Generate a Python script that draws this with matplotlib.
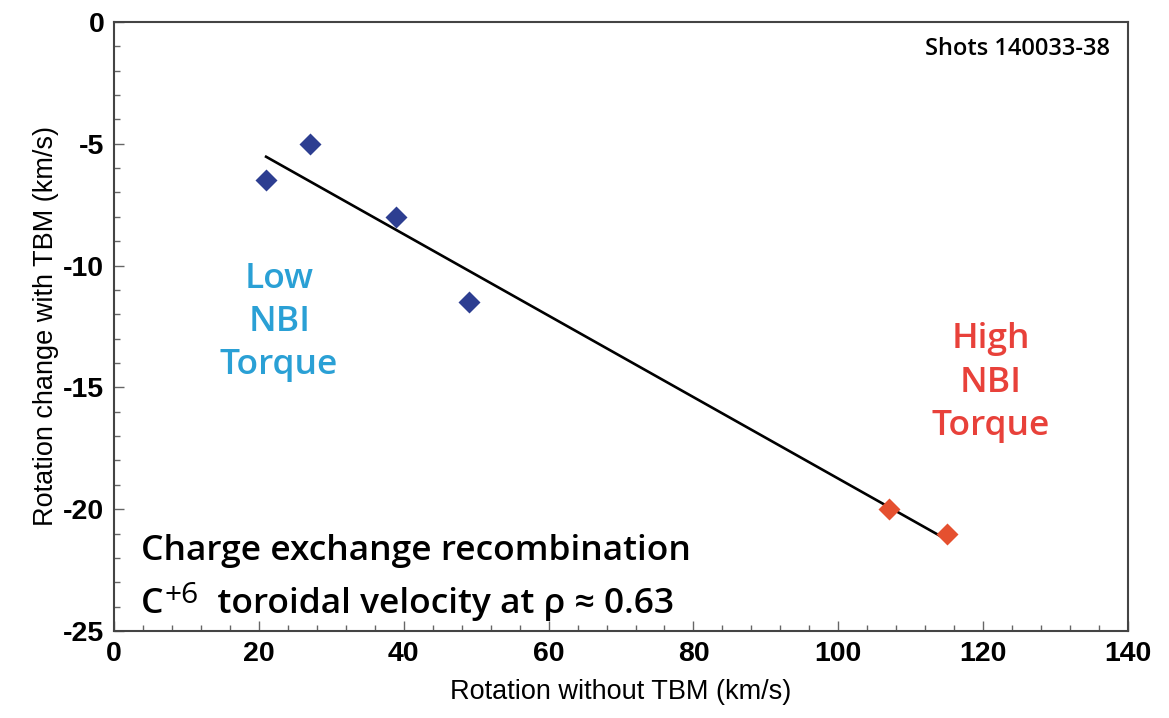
import numpy as np
import matplotlib
matplotlib.use("Agg")
import matplotlib.pyplot as plt
from matplotlib.ticker import MultipleLocator

# rotation without TBM vs. rotation change with TBM (km/s)
low_x = [21, 27, 39, 49]
low_y = [-6.5, -5.0, -8.0, -11.5]
high_x = [107, 115]
high_y = [-20.0, -21.0]

x_ticks = [0, 20, 40, 60, 80, 100, 120, 140]
y_ticks = [0, -5, -10, -15, -20, -25]

plt.rcParams["axes.unicode_minus"] = False

tick_font = ["Liberation Sans", "DejaVu Sans"]
label_font = ["Liberation Sans", "DejaVu Sans"]
note_font = ["Open Sans", "DejaVu Sans"]

fig = plt.figure(figsize=(11.69, 7.18), dpi=100)
ax = fig.add_axes([0.0975, 0.1212, 0.8675, 0.8482])

# linear fit through all six shots
all_x = np.array(low_x + high_x)
all_y = np.array(low_y + high_y)
slope, icept = np.polyfit(all_x, all_y, 1)
fit_x = np.array([all_x.min(), all_x.max()])
ax.plot(fit_x, slope * fit_x + icept, color="black", lw=1.9, zorder=2)

ax.plot(low_x, low_y, "D", color="#2d3e91", ms=11.5, mec="none", zorder=3)
ax.plot(high_x, high_y, "D", color="#e5502f", ms=11.5, mec="none", zorder=3)

ax.set_xlim(0, 140)
ax.set_ylim(-25, 0)
ax.set_xticks(x_ticks)
ax.set_yticks(y_ticks)
ax.xaxis.set_minor_locator(MultipleLocator(4))
ax.yaxis.set_minor_locator(MultipleLocator(1))
ax.tick_params(which="both", direction="in", top=False, right=False, color="#666666", width=1.0)
ax.tick_params(which="major", length=7, pad=7)
ax.tick_params(which="minor", length=4)
for lab in ax.get_xticklabels() + ax.get_yticklabels():
    lab.set_family(tick_font)
    lab.set_fontsize(20.5)
    lab.set_fontweight("bold")
for sp in ax.spines.values():
    sp.set_color("#444444")
    sp.set_linewidth(1.5)

ax.set_xlabel("Rotation without TBM (km/s)", family=label_font, fontsize=19.5, labelpad=9)
ax.set_ylabel("Rotation change with TBM (km/s)", family=label_font, fontsize=19.5, labelpad=3)

ax.text(137.5, -1.1, "Shots 140033-38", ha="right", va="center", family=note_font,
        fontsize=17, fontweight="semibold")

ax.text(22.8, -12.3, "Low\nNBI\nTorque", ha="center", va="center", color="#2aa0d5",
        family=note_font, fontsize=25.5, fontweight="semibold", linespacing=1.35)
ax.text(121, -14.8, "High\nNBI\nTorque", ha="center", va="center", color="#e8413a",
        family=note_font, fontsize=25.5, fontweight="semibold", linespacing=1.35)

ax.text(3.7, -22.09, "Charge exchange recombination", ha="left", va="baseline",
        family=note_font, fontsize=25.5, fontweight="semibold")
t1 = ax.text(3.7, -24.26, "C", ha="left", va="baseline",
             family=note_font, fontsize=25.5, fontweight="semibold")
t2 = ax.annotate("+6", xy=(1, 1), xycoords=t1, xytext=(1, 4), textcoords="offset points",
                 ha="left", va="top", family=note_font, fontsize=21.5, fontweight="medium")
ax.annotate("  toroidal velocity at ρ ≈ 0.63", xy=(1, -24.26), xycoords=(t2, "data"),
            ha="left", va="baseline", family=note_font, fontsize=25.5, fontweight="semibold")

fig.savefig("out.png", dpi=100)
